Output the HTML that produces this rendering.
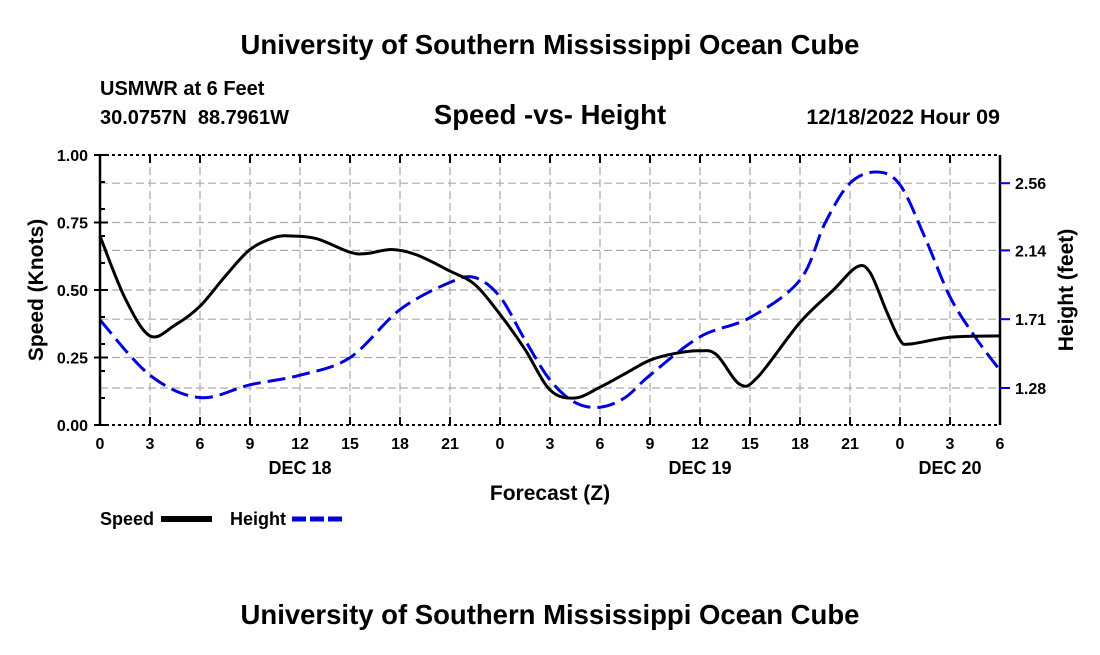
<!DOCTYPE html>
<html><head><meta charset="utf-8"><style>
body{margin:0;background:#fff;width:1100px;height:650px;overflow:hidden}
svg text{font-family:"Liberation Sans",sans-serif;font-weight:bold;fill:#000;white-space:pre}
</style></head><body>
<svg id="c" width="1100" height="650" xmlns="http://www.w3.org/2000/svg">
<text x="550" y="54" font-size="27.5" text-anchor="middle">University of Southern Mississippi Ocean Cube</text>
<text x="100" y="95" font-size="20">USMWR at 6 Feet</text>
<text x="100" y="124" font-size="20" xml:space="preserve">30.0757N  88.7961W</text>
<text x="550" y="124" font-size="27.5" text-anchor="middle">Speed -vs- Height</text>
<text x="1000" y="124" font-size="21.5" text-anchor="end">12/18/2022 Hour 09</text>
<text x="550" y="624" font-size="27.5" text-anchor="middle">University of Southern Mississippi Ocean Cube</text>
<text transform="translate(43,290) rotate(-90)" font-size="21" text-anchor="middle">Speed (Knots)</text>
<text transform="translate(1073,290) rotate(-90)" font-size="21" text-anchor="middle">Height (feet)</text>
<text x="550" y="500" font-size="21" text-anchor="middle">Forecast (Z)</text>
<g>
<text x="100" y="525" font-size="18">Speed</text>
<rect x="161" y="516" width="51" height="6" fill="#000"/>
<text x="230" y="525" font-size="18">Height</text>
<line x1="292" y1="519" x2="342" y2="519" stroke="#0000dd" stroke-width="5" stroke-dasharray="14,4"/>
</g>
</svg>
<script>
const hours=[0,1.5,3,4.5,6,7.5,9,10.5,11.5,13,15,16,17.5,19,21,22.5,24,25.5,27,28.5,30,31.5,33,34.5,36,37,38.4,39.5,42,44,45.4,46.2,47.2,48,48.6,51,54];
const speed=[0.70,0.47,0.33,0.37,0.44,0.55,0.65,0.695,0.70,0.69,0.64,0.635,0.65,0.63,0.57,0.52,0.41,0.28,0.13,0.10,0.14,0.19,0.24,0.265,0.275,0.26,0.15,0.18,0.38,0.50,0.585,0.565,0.42,0.315,0.30,0.325,0.33];
const hHours=[0,3,6,9,12,15,18,21,22.5,24,25.5,27,28.5,30,31.5,33,36,39,42,43.5,45,46.6,48,49.5,51,52.5,54];
const height=[1.705,1.36,1.22,1.30,1.36,1.47,1.77,1.94,1.97,1.85,1.58,1.33,1.19,1.16,1.22,1.36,1.60,1.72,1.955,2.31,2.56,2.63,2.55,2.22,1.85,1.60,1.39];
const xTickLabels=["0","3","6","9","12","15","18","21","0","3","6","9","12","15","18","21","0","3","6"];
const yTicks=[0,0.25,0.5,0.75,1.0];
const y2Ticks=[1.28,1.71,2.14,2.56];
const dayLabels=[{h:12,t:"DEC 18"},{h:36,t:"DEC 19"},{h:51,t:"DEC 20"}];
const L=100,R=1000,T=155,B=425;
const X=h=>L+(R-L)*h/54;
const Y=v=>B-(B-T)*v;
const Y2=f=>388-(f-1.28)*160;
const NS="http://www.w3.org/2000/svg";
const svg=document.getElementById('c');
function mk(tag,at,parent){const e=document.createElementNS(NS,tag);for(const k in at)e.setAttribute(k,at[k]);(parent||svg).appendChild(e);return e;}
const grid=mk('g',{});


for(let i=1;i<18;i++){const l=mk('line',{x1:X(i*3),x2:X(i*3),y1:T,y2:B,stroke:'#aaa','stroke-width':1.2,'stroke-dasharray':'8,4'},grid);

}
const hl=yTicks.slice(1,-1).map(Y).concat(y2Ticks.map(Y2));
hl.forEach(y=>{const l=mk('line',{x1:L,x2:R,y1:y,y2:y,stroke:'#aaa','stroke-width':1.2,'stroke-dasharray':'8,4'},grid);

});
function path(xs,vs,fy){const p=xs.map((h,i)=>[X(h),fy(vs[i])]);let d='M'+p[0][0]+','+p[0][1];
for(let i=0;i<p.length-1;i++){const p0=p[Math.max(0,i-1)],p1=p[i],p2=p[i+1],p3=p[Math.min(p.length-1,i+2)];
d+=' C'+(p1[0]+(p2[0]-p0[0])/6)+','+(p1[1]+(p2[1]-p0[1])/6)+' '+(p2[0]-(p3[0]-p1[0])/6)+','+(p2[1]-(p3[1]-p1[1])/6)+' '+p2[0]+','+p2[1];}return d;}
const hp=mk('path',{d:path(hHours,height,Y2),fill:'none',stroke:'#0000dd','stroke-width':3,'stroke-dasharray':'18,7'});


const sp=mk('path',{d:path(hours,speed,Y),fill:'none',stroke:'#000','stroke-width':3});


const ax=mk('g',{});


mk('line',{x1:L,x2:L,y1:T,y2:B,stroke:'#000','stroke-width':2.5},ax);
mk('line',{x1:R,x2:R,y1:T,y2:B,stroke:'#000','stroke-width':2.5},ax);
mk('line',{x1:L,x2:R,y1:T,y2:T,stroke:'#000','stroke-width':2,'stroke-dasharray':'3,3'},ax);
mk('line',{x1:L,x2:R,y1:B,y2:B,stroke:'#000','stroke-width':2,'stroke-dasharray':'3,3'},ax);
xTickLabels.forEach((t,i)=>{const x=X(i*3);mk('line',{x1:x,x2:x,y1:B,y2:B-8,stroke:'#000','stroke-width':2},ax);mk('line',{x1:x,x2:x,y1:T,y2:T+8,stroke:'#000','stroke-width':2},ax);
const e=mk('text',{x:x,y:449,'font-size':16,'text-anchor':'middle'});e.textContent=t;

});
dayLabels.forEach(d=>{const e=mk('text',{x:X(d.h),y:474,'font-size':18,'text-anchor':'middle'});e.textContent=d.t;

});
for(let v=0.1;v<1;v+=0.1){mk('line',{x1:L,x2:L+5,y1:Y(v),y2:Y(v),stroke:'#000','stroke-width':2},ax);}
yTicks.forEach(v=>{mk('line',{x1:L-6,x2:L+8,y1:Y(v),y2:Y(v),stroke:'#000','stroke-width':2},ax);
const e=mk('text',{x:L-12,y:Y(v)+6,'font-size':16,'text-anchor':'end'});e.textContent=v.toFixed(2);

});
y2Ticks.forEach(f=>{mk('line',{x1:R,x2:R+10,y1:Y2(f),y2:Y2(f),stroke:'#0000dd','stroke-width':2},ax);
const e=mk('text',{x:R+15,y:Y2(f)+6,'font-size':16});e.textContent=f.toFixed(2);

});
</script>
</body></html>
